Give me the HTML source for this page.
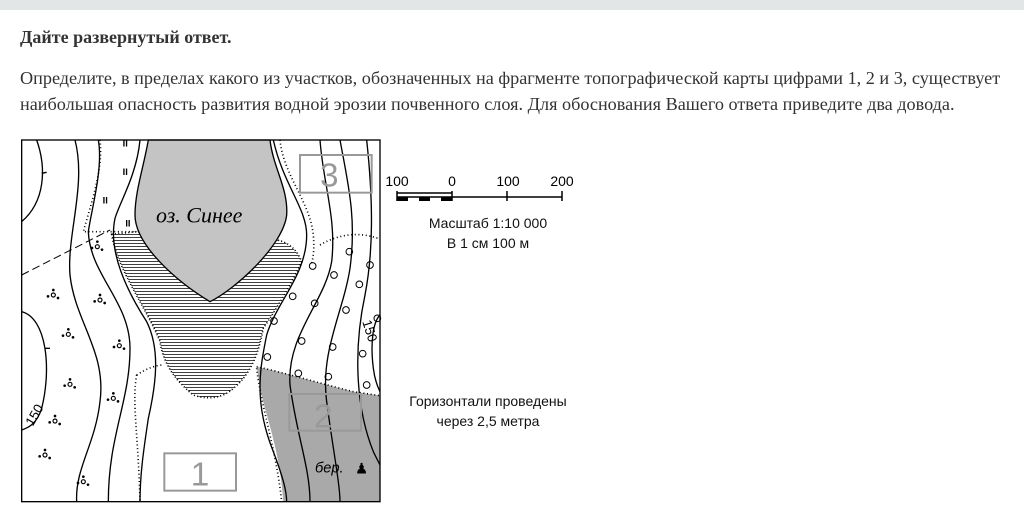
<!DOCTYPE html>
<html><head><meta charset="utf-8"><style>
body{margin:0;width:1024px;height:518px;background:#fff;position:relative;overflow:hidden;font-family:"Liberation Serif",serif;color:#333}
.bar{position:absolute;left:0;top:0;width:1024px;height:10px;background:#e2e6e7}
.t{position:absolute;white-space:nowrap}
.s{font-family:"Liberation Sans",sans-serif;color:#111;font-size:14px}
</style></head><body>
<div class="bar"></div>
<div class="t" style="left:20px;top:27px;font-size:18px;font-weight:bold">Дайте развернутый ответ.</div>
<div class="t" style="left:20px;top:65px;font-size:18.2px;line-height:26px">Определите, в пределах какого из участков, обозначенных на фрагменте топографической карты цифрами 1, 2 и 3, существует<br>наибольшая опасность развития водной эрозии почвенного слоя. Для обоснования Вашего ответа приведите два довода.</div>

<svg style="position:absolute;left:20px;top:135px" width="370" height="375" viewBox="0 0 1110 1125">
<defs>
<pattern id="h" width="10" height="9" patternUnits="userSpaceOnUse"><line x1="0" y1="1" x2="10" y2="1" stroke="#000" stroke-width="2.5"/></pattern>
<g id="dc" fill="#000"><circle cx="0" cy="0" r="6" fill="none" stroke="#000" stroke-width="3.5"/><circle cx="-16" cy="4" r="4"/><circle cx="0" cy="-15" r="4"/><circle cx="14" cy="9" r="4"/></g>
</defs>
<rect x="5" y="15" width="1075" height="1085" fill="#fff"/>
<path d="M710,695 C800,715 900,745 1000,770 L1080,782 L1080,1100 L790,1100 C780,950 740,850 720,760 Z" fill="#a9a9a9"/>
<path d="M275,298 C290,400 380,520 420,620 C430,690 470,740 520,780 C560,795 610,790 640,760 C690,720 715,660 730,580 C770,520 820,440 845,380 C830,340 800,320 770,315 L350,290 Z" fill="url(#h)" stroke="#000" stroke-width="5" stroke-dasharray="3,7"/>
<path d="M385,15 C370,100 345,170 345,240 C345,330 470,440 570,500 C650,460 790,330 800,240 C805,160 760,100 750,15 Z" fill="#c4c4c4" stroke="#000" stroke-width="4"/>
<g fill="none" stroke="#000" stroke-width="4">
<path d="M50,15 C80,100 75,200 5,260"/>
<path d="M5,530 C80,550 95,700 65,820 C50,870 20,880 5,885"/>
<path d="M165,15 C200,150 140,300 150,420 C165,560 260,650 240,800 C225,930 165,1000 170,1100"/>
<path d="M235,15 C250,100 215,220 205,290 C210,420 330,500 330,640 C330,800 265,900 265,1100"/>
<path d="M360,15 C350,120 300,200 285,250 C270,320 290,420 380,560 C420,640 410,740 385,850 C370,950 360,1020 360,1100"/>
<path d="M760,15 C790,150 860,220 860,300 C860,420 770,500 740,600 C720,700 700,800 760,950 C790,1030 800,1070 800,1100"/>
<path d="M900,15 C910,150 950,250 935,380 C915,500 800,600 810,750 C830,900 870,1000 870,1100"/>
<path d="M960,15 C985,150 1010,250 990,400 C970,530 900,650 920,800 C940,950 960,1050 960,1100"/>
<path d="M1040,15 C1060,200 1060,350 1035,480 C1005,620 1000,800 1060,950 L1080,990"/>
<path d="M1080,540 C1060,560 1050,620 1060,700 C1065,740 1075,760 1080,770"/>
<line x1="65" y1="115" x2="80" y2="112"/><line x1="75" y1="640" x2="90" y2="640"/>
</g>
<rect x="5" y="15" width="1075" height="1085" fill="none" stroke="#000" stroke-width="4"/>
<g fill="none" stroke="#000" stroke-width="5" stroke-dasharray="3,8">
<path d="M240,15 C250,100 215,200 190,290 L350,290"/>
<path d="M780,15 C790,120 870,200 880,300 C885,360 875,390 870,390"/>
<path d="M900,330 C960,295 1020,290 1080,312"/>
<path d="M350,720 C380,700 410,690 430,690"/>
<path d="M350,720 C335,800 355,900 360,1100"/>
<path d="M710,700 C720,800 770,950 785,1100"/>
<path d="M710,695 C800,715 900,745 1000,770 L1080,782"/>
</g>
<path d="M5,420 L270,285" stroke="#000" stroke-width="3" stroke-dasharray="24,12" fill="none"/>
<g fill="none" stroke="#000" stroke-width="3">
<circle cx="988" cy="350" r="10"/><circle cx="1050" cy="390" r="10"/><circle cx="878" cy="393" r="10"/><circle cx="942" cy="420" r="10"/><circle cx="1018" cy="448" r="10"/><circle cx="818" cy="484" r="10"/><circle cx="884" cy="505" r="10"/><circle cx="978" cy="525" r="10"/><circle cx="762" cy="558" r="10"/><circle cx="845" cy="618" r="10"/><circle cx="938" cy="636" r="10"/><circle cx="1028" cy="656" r="10"/><circle cx="1072" cy="550" r="10"/><circle cx="742" cy="666" r="10"/><circle cx="835" cy="715" r="10"/><circle cx="925" cy="725" r="10"/><circle cx="1040" cy="750" r="10"/>
</g>
<use href="#dc" x="232" y="335"/><use href="#dc" x="100" y="480"/><use href="#dc" x="240" y="495"/><use href="#dc" x="145" y="598"/><use href="#dc" x="298" y="632"/><use href="#dc" x="150" y="748"/><use href="#dc" x="280" y="790"/><use href="#dc" x="105" y="858"/><use href="#dc" x="75" y="960"/><use href="#dc" x="190" y="1040"/>
<g font-family="Liberation Sans,sans-serif" font-size="28" font-weight="bold" fill="#000"><text x="308" y="35">II</text><text x="308" y="120">II</text><text x="248" y="205">II</text><text x="316" y="275">II</text></g>
<text x="12" y="870" font-family="Liberation Sans,sans-serif" font-size="40" transform="rotate(-60 30 850)">150</text>
<text x="990" y="570" font-family="Liberation Sans,sans-serif" font-size="40" transform="rotate(72 1015 590)">150</text>
<text x="408" y="262" font-family="Liberation Serif,serif" font-style="italic" font-size="66">оз. Синее</text>
<text x="885" y="1013" font-family="Liberation Sans,sans-serif" font-style="italic" font-size="44">бер.</text>
<text x="1005" y="1015" font-family="DejaVu Sans,sans-serif" font-size="44">♟</text>
<g fill="none" stroke="#999" stroke-width="6"><rect x="840" y="60" width="215" height="113"/><rect x="808" y="777" width="215" height="110"/><rect x="433" y="955" width="215" height="112"/></g>
<g font-family="Liberation Sans,sans-serif" font-size="100" fill="#999" text-anchor="middle"><text x="928" y="155">3</text><text x="910" y="877">2</text><text x="540" y="1052">1</text></g>
</svg>

<svg style="position:absolute;left:380px;top:165px" width="200" height="40">
<g font-family="Liberation Sans,sans-serif" font-size="14" fill="#000" text-anchor="middle"><text x="17" y="21">100</text><text x="72" y="21">0</text><text x="128" y="21">100</text><text x="182" y="21">200</text></g>
<g stroke="#000" stroke-width="1.5" fill="none"><line x1="17" y1="32" x2="182" y2="32"/><line x1="17" y1="26" x2="17" y2="36"/><line x1="72" y1="26" x2="72" y2="36"/><line x1="127" y1="26" x2="127" y2="36"/><line x1="182" y1="26" x2="182" y2="36"/><line x1="17" y1="28" x2="72" y2="28"/></g>
<g fill="#000"><rect x="17" y="32" width="11" height="4"/><rect x="39" y="32" width="11" height="4"/><rect x="61" y="32" width="11" height="4"/></g>
</svg>
<div class="t s" style="left:385px;top:213px;width:206px;text-align:center;line-height:20px">Масштаб 1:10 000<br>В 1 см 100 м</div>
<div class="t s" style="left:388px;top:391px;width:200px;text-align:center;line-height:20px">Горизонтали проведены<br>через 2,5 метра</div>
</body></html>
